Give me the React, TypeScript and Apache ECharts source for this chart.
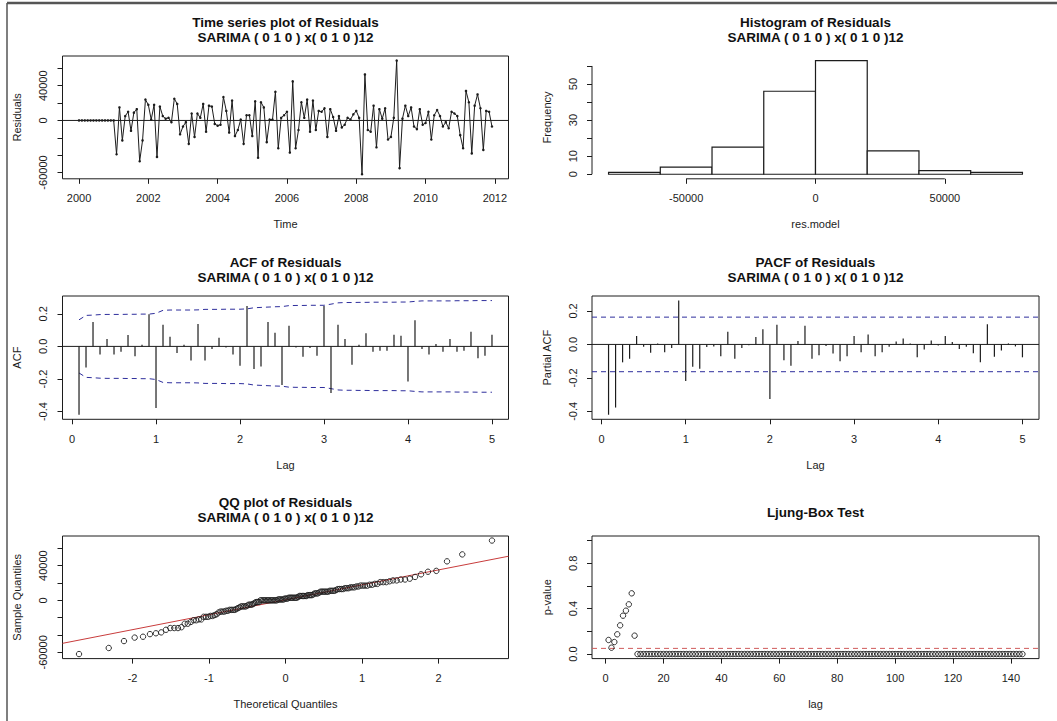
import React, { useEffect, useRef } from "react";
import * as echarts from "echarts";

const FONT = "'Liberation Sans', Arial, sans-serif";
const INK = "#1c1c1c";
const BAND = "#2e2e9c";

// ---------- Time series of residuals (monthly, from 2000) ----------
const tsStart = 2000;
const tsFrequency = 12;
const residuals: number[] = [
  0, 0, 0, 0, 0, 0, 0, 0, 0, 0, 0, 0, 0,
  -39000, 15000, -23000, 5000, 10000, -12000, 9000, 13000, -47000, -23000,
  24000, 18000, 1000, 18000, -42000, 16000, 5000, 2000, 3000, -2000,
  25000, 19000, -16000, -7000, -2000, -27000, 8000, -19000, 8000, 3000,
  19000, -13000, 17000, 16000, -4000, -6000, -5000, 27000, 11000, -14000,
  23000, -18000, -11000, 1000, -27000, 6000, 6000, -18000, 22000, -43000,
  21000, 15000, -25000, 1000, 1000, 33000,
  -32000, 3000, 6000, 10000, -37000, 45000, -32000, -11000, 21000, 3000,
  24000, -13000, 23000, -11000, 11000, 10000, 14000, -19000, 13000, 4000,
  -12000, 5000, -8000, -5000, 3000, 1000, 7000, 11000, 3000, -62000,
  53000, -11000, -13000, 17000, -31000, 13000, 2000, 14000, -22000, -19000,
  3000, 69000, -55000, 2000, 17000, 5000, 15000, -7000, -10000, 13000,
  -5000, -3000, 10000, -22000, 6000, 12000, 5000, -7000, -2000, -9000,
  10000, 8000, 5000, -17000, -32000, 34000, 21000, -38000, 17000, 30000,
  14000, -34000, 11000, 10000, -7000,
];
const yearTicks = [2000, 2002, 2004, 2006, 2008, 2010, 2012];
const residualTicks = [-60000, -40000, -20000, 0, 20000, 40000, 60000];
const residualTickLabels = [-60000, 0, 40000];

// ---------- Histogram ----------
const histBreaks = [-80000, -60000, -40000, -20000, 0, 20000, 40000, 60000, 80000];
const histCounts = [1, 4, 15, 46, 63, 13, 2, 1];
const histXTicks = [-50000, 0, 50000];
const histYTicks = [0, 10, 20, 30, 40, 50, 60];
const histYTickLabels = [0, 10, 30, 50];

// ---------- ACF / PACF (lags 1..60, in years) ----------
const lagsPerYear = 12;
const acfValues = [
  -0.419, -0.13, 0.15, -0.05, 0.045, -0.05, -0.033, 0.07, -0.06, 0.01,
  0.197, -0.378, 0.132, 0.059, -0.04, 0.01, -0.087, 0.138, -0.087, -0.016,
  0.053, -0.006, -0.05, -0.118, 0.248, -0.138, -0.124, 0.15, 0.083, -0.236,
  0.126, -0.006, -0.063, -0.01, -0.057, 0.248, -0.285, 0.132, 0.045, -0.112,
  0.01, 0.081, -0.033, -0.026, -0.026, 0.071, 0.065, -0.215, 0.16, -0.016,
  -0.05, 0.014, -0.033, 0.045, -0.033, -0.026, 0.09, -0.073, -0.057, 0.071,
];
const acfBand = [
  0.163, 0.19, 0.192, 0.195, 0.196, 0.196, 0.196, 0.197, 0.197, 0.198,
  0.198, 0.203, 0.221, 0.223, 0.223, 0.223, 0.223, 0.224, 0.227, 0.227,
  0.227, 0.228, 0.228, 0.228, 0.23, 0.237, 0.239, 0.241, 0.243, 0.244,
  0.25, 0.251, 0.251, 0.252, 0.252, 0.252, 0.259, 0.267, 0.269, 0.269,
  0.27, 0.27, 0.271, 0.271, 0.271, 0.271, 0.272, 0.272, 0.276, 0.279,
  0.279, 0.279, 0.279, 0.279, 0.28, 0.28, 0.28, 0.281, 0.281, 0.281,
];
const pacfValues = [
  -0.42, -0.377, -0.107, -0.085, 0.05, -0.014, -0.05, 0.006, -0.046, -0.022,
  0.262, -0.218, -0.133, -0.145, -0.016, -0.012, -0.07, 0.075, -0.085, -0.022,
  -0.005, 0.044, 0.09, -0.326, 0.117, -0.095, -0.127, 0.02, 0.111, -0.085,
  -0.064, -0.01, -0.054, -0.1, -0.07, 0.05, -0.046, 0.06, -0.07, -0.046,
  -0.014, 0.018, 0.036, 0.005, -0.077, -0.03, 0.024, -0.006, 0.05, 0.014,
  -0.028, -0.014, -0.052, -0.107, 0.121, -0.073, -0.036, 0.006, -0.012, -0.077,
];
const pacfBand = 0.163;
const lagTicks = [0, 1, 2, 3, 4, 5];
const corrTicks = [-0.4, -0.2, 0, 0.2];

// ---------- QQ ----------
const qqXTicks = [-2, -1, 0, 1, 2];

// ---------- Ljung-Box ----------
const lbPValues = [
  0.124, 0.056, 0.106, 0.174, 0.253, 0.338, 0.382, 0.438, 0.535, 0.162,
  0, 0, 0, 0, 0, 0, 0, 0, 0, 0, 0, 0, 0, 0, 0, 0, 0, 0, 0, 0,
  0, 0, 0, 0, 0, 0, 0, 0, 0, 0, 0, 0, 0, 0, 0, 0, 0, 0, 0, 0,
  0, 0, 0, 0, 0, 0, 0, 0, 0, 0, 0, 0, 0, 0, 0, 0, 0, 0, 0, 0,
  0, 0, 0, 0, 0, 0, 0, 0, 0, 0, 0, 0, 0, 0, 0, 0, 0, 0, 0, 0,
  0, 0, 0, 0, 0, 0, 0, 0, 0, 0, 0, 0, 0, 0, 0, 0, 0, 0, 0, 0,
  0, 0, 0, 0, 0, 0, 0, 0, 0, 0, 0, 0, 0, 0, 0, 0, 0, 0, 0, 0,
  0, 0, 0, 0, 0, 0, 0, 0, 0, 0, 0, 0, 0, 0,
];
const lbThreshold = 0.05;
const lbXTicks = [0, 20, 40, 60, 80, 100, 120, 140];
const lbYTicks = [0, 0.2, 0.4, 0.6, 0.8, 1];
const lbYTickLabels = [0, 0.4, 0.8];

const subtitle = "SARIMA ( 0 1 0 ) x( 0 1 0 )12";

// ---------- helpers ----------
function rRange(lo: number, hi: number): [number, number] {
  const d = (hi - lo) * 0.04;
  return [lo - d, hi + d];
}

function qnorm(p: number): number {
  const a = [-39.6968302866538, 220.946098424521, -275.928510446969, 138.357751867269, -30.6647980661472, 2.50662827745924];
  const b = [-54.4760987982241, 161.585836858041, -155.698979859887, 66.8013118877197, -13.2806815528857];
  const c = [-0.00778489400243029, -0.322396458041136, -2.40075827716184, -2.54973253934373, 4.37466414146497, 2.93816398269878];
  const d = [0.00778469570904146, 0.32246712907004, 2.445134137143, 3.75440866190742];
  const pl = 0.02425;
  if (p < pl) {
    const q = Math.sqrt(-2 * Math.log(p));
    return (((((c[0] * q + c[1]) * q + c[2]) * q + c[3]) * q + c[4]) * q + c[5]) / ((((d[0] * q + d[1]) * q + d[2]) * q + d[3]) * q + 1);
  }
  if (p > 1 - pl) {
    const q = Math.sqrt(-2 * Math.log(1 - p));
    return -(((((c[0] * q + c[1]) * q + c[2]) * q + c[3]) * q + c[4]) * q + c[5]) / ((((d[0] * q + d[1]) * q + d[2]) * q + d[3]) * q + 1);
  }
  const q = p - 0.5;
  const r = q * q;
  return ((((((a[0] * r + a[1]) * r + a[2]) * r + a[3]) * r + a[4]) * r + a[5]) * q) / (((((b[0] * r + b[1]) * r + b[2]) * r + b[3]) * r + b[4]) * r + 1);
}

function quantile7(sorted: number[], p: number): number {
  const h = (sorted.length - 1) * p;
  const lo = Math.floor(h);
  const hi = Math.ceil(h);
  return sorted[lo] + (h - lo) * (sorted[hi] - sorted[lo]);
}

const GRIDS = [
  { left: 62.5, top: 56, width: 446, height: 122.8 },
  { left: 592, top: 56, width: 447, height: 122.8 },
  { left: 62.5, top: 296, width: 446, height: 123.3 },
  { left: 592, top: 296, width: 447, height: 123.3 },
  { left: 62.5, top: 536, width: 446, height: 122.6 },
  { left: 592, top: 536, width: 447, height: 122.6 },
];

function axis(
  gridIndex: number,
  range: [number, number],
  ticks: number[],
  labels: number[],
  name: string,
  isY: boolean,
  fmt: (v: number) => string
) {
  return {
    type: "value",
    gridIndex,
    min: range[0],
    max: range[1],
    splitLine: { show: false },
    axisLine: { show: false, onZero: false },
    axisTick: {
      show: true,
      inside: false,
      length: 5,
      customValues: ticks,
      lineStyle: { color: INK, width: 1 },
    },
    axisLabel: {
      show: true,
      customValues: labels,
      rotate: isY ? 90 : 0,
      margin: 14,
      fontSize: 11,
      fontFamily: FONT,
      color: INK,
      formatter: (v: number) => fmt(v),
    },
    name,
    nameLocation: "middle",
    nameGap: 40,
    nameRotate: isY ? 90 : 0,
    nameTextStyle: { fontSize: 11, fontFamily: FONT, color: INK },
  };
}

function buildOption() {
  const n = residuals.length;
  const tsX = residuals.map((_, i) => tsStart + i / tsFrequency);
  const tsXRange = rRange(tsX[0], tsX[n - 1]);
  const resRange = rRange(Math.min(...residuals), Math.max(...residuals));

  const histXRange = rRange(histBreaks[0], histBreaks[histBreaks.length - 1]);
  const histYRange = rRange(0, Math.max(...histCounts));

  const lags = acfValues.map((_, i) => (i + 1) / lagsPerYear);
  const lagRange = rRange(lags[0], lags[lags.length - 1]);
  const acfRange = rRange(
    Math.min(...acfValues, ...acfBand.map((b) => -b)),
    Math.max(...acfValues, ...acfBand)
  );
  const pacfRange = rRange(Math.min(...pacfValues, -pacfBand), Math.max(...pacfValues, pacfBand));

  const sorted = [...residuals].sort((a, b) => a - b);
  const theo = sorted.map((_, i) => qnorm((i + 1 - 0.5) / n));
  const qqXRange = rRange(theo[0], theo[n - 1]);
  const q1 = quantile7(sorted, 0.25);
  const q3 = quantile7(sorted, 0.75);
  const z1 = qnorm(0.25);
  const z3 = qnorm(0.75);
  const slope = (q3 - q1) / (z3 - z1);
  const intercept = q1 - slope * z1;

  const lbLags = lbPValues.map((_, i) => i + 1);
  const lbXRange = rRange(lbLags[0], lbLags[lbLags.length - 1]);
  const lbYRange = rRange(0, 1);

  const intFmt = (v: number) => String(Math.round(v));
  const oneDec = (v: number) => (Math.abs(v) < 1e-9 ? "0.0" : v.toFixed(1));

  const spike = (color: string) => (params: any, api: any) => {
    const x = api.value(0);
    const y = api.value(1);
    const p0 = api.coord([x, 0]);
    const p1 = api.coord([x, y]);
    return {
      type: "line",
      shape: { x1: p0[0], y1: p0[1], x2: p1[0], y2: p1[1] },
      style: { stroke: color, lineWidth: 1.2 },
    };
  };

  const ring = (params: any, api: any) => {
    const p = api.coord([api.value(0), api.value(1)]);
    return {
      type: "circle",
      shape: { cx: p[0], cy: p[1], r: 2.7 },
      style: { fill: "none", stroke: INK, lineWidth: 0.9 },
    };
  };

  const flat = (
    xi: number,
    xr: [number, number],
    yv: number,
    color: string,
    dashed: boolean,
    width = 1
  ) => ({
    type: "line",
    xAxisIndex: xi,
    yAxisIndex: xi,
    data: [
      [xr[0], yv],
      [xr[1], yv],
    ],
    symbol: "none",
    silent: true,
    lineStyle: { color, width, type: dashed ? [5, 4] : "solid" },
    z: 3,
  });

  const titles: any[] = [];
  const titleText = [
    "Time series plot of Residuals",
    "Histogram of Residuals",
    "ACF of Residuals",
    "PACF of Residuals",
    "QQ plot of Residuals",
  ];
  GRIDS.forEach((g, i) => {
    const cx = g.left + g.width / 2;
    if (i < 5) {
      titles.push({
        type: "text",
        x: cx,
        y: g.top - 34,
        style: { text: titleText[i], textAlign: "center", textVerticalAlign: "middle", font: `bold 13.5px ${FONT}`, fill: "#111" },
      });
      titles.push({
        type: "text",
        x: cx,
        y: g.top - 19,
        style: { text: subtitle, textAlign: "center", textVerticalAlign: "middle", font: `bold 13.5px ${FONT}`, fill: "#111" },
      });
    } else {
      titles.push({
        type: "text",
        x: cx,
        y: g.top - 24,
        style: { text: "Ljung-Box Test", textAlign: "center", textVerticalAlign: "middle", font: `bold 13.5px ${FONT}`, fill: "#111" },
      });
    }
  });

  return {
    animation: false,
    backgroundColor: "#ffffff",
    grid: GRIDS.map((g, i) => ({
      ...g,
      containLabel: false,
      show: i !== 1,
      borderColor: INK,
      borderWidth: 1,
      backgroundColor: "transparent",
    })),
    xAxis: [
      axis(0, tsXRange, yearTicks, yearTicks, "Time", false, intFmt),
      axis(1, histXRange, histXTicks, histXTicks, "res.model", false, intFmt),
      axis(2, lagRange, lagTicks, lagTicks, "Lag", false, intFmt),
      axis(3, lagRange, lagTicks, lagTicks, "Lag", false, intFmt),
      axis(4, qqXRange, qqXTicks, qqXTicks, "Theoretical Quantiles", false, intFmt),
      axis(5, lbXRange, lbXTicks, lbXTicks, "lag", false, intFmt),
    ],
    yAxis: [
      axis(0, resRange, residualTicks, residualTickLabels, "Residuals", true, intFmt),
      axis(1, histYRange, histYTicks, histYTickLabels, "Frequency", true, intFmt),
      axis(2, acfRange, corrTicks, corrTicks, "ACF", true, oneDec),
      axis(3, pacfRange, corrTicks, corrTicks, "Partial ACF", true, oneDec),
      axis(4, resRange, residualTicks, residualTickLabels, "Sample Quantiles", true, intFmt),
      axis(5, lbYRange, lbYTicks, lbYTickLabels, "p-value", true, oneDec),
    ],
    graphic: [
      { type: "line", shape: { x1: 7, y1: 3, x2: 1057, y2: 3 }, style: { stroke: "#555", lineWidth: 2.5 } },
      { type: "line", shape: { x1: 7, y1: 3, x2: 7, y2: 721 }, style: { stroke: "#555", lineWidth: 1.5 } },
      ...titles,
    ],
    series: [
      // time series
      flat(0, tsXRange, 0, INK, false),
      {
        type: "line",
        xAxisIndex: 0,
        yAxisIndex: 0,
        data: residuals.map((v, i) => [tsX[i], v]),
        symbol: "circle",
        symbolSize: 2.5,
        showSymbol: true,
        lineStyle: { color: INK, width: 1 },
        itemStyle: { color: INK },
        z: 4,
      },
      // histogram
      {
        type: "custom",
        xAxisIndex: 1,
        yAxisIndex: 1,
        data: histCounts.map((c, i) => [histBreaks[i], histBreaks[i + 1], c]),
        encode: { x: [0, 1], y: 2 },
        renderItem: (params: any, api: any) => {
          const lo = api.value(0);
          const hi = api.value(1);
          const c = api.value(2);
          const p0 = api.coord([lo, c]);
          const p1 = api.coord([hi, 0]);
          return {
            type: "rect",
            shape: { x: p0[0], y: p0[1], width: p1[0] - p0[0], height: p1[1] - p0[1] },
            style: { fill: "#ffffff", stroke: INK, lineWidth: 1.2 },
          };
        },
      },
      {
        type: "line",
        xAxisIndex: 1,
        yAxisIndex: 1,
        data: [
          [histXTicks[0], histYRange[0]],
          [histXTicks[histXTicks.length - 1], histYRange[0]],
        ],
        symbol: "none",
        clip: false,
        silent: true,
        lineStyle: { color: INK, width: 1 },
      },
      {
        type: "line",
        xAxisIndex: 1,
        yAxisIndex: 1,
        data: [
          [histXRange[0], histYTicks[0]],
          [histXRange[0], histYTicks[histYTicks.length - 1]],
        ],
        symbol: "none",
        clip: false,
        silent: true,
        lineStyle: { color: INK, width: 1 },
      },
      // ACF
      flat(2, lagRange, 0, INK, false),
      {
        type: "custom",
        xAxisIndex: 2,
        yAxisIndex: 2,
        data: acfValues.map((v, i) => [lags[i], v]),
        encode: { x: 0, y: 1 },
        renderItem: spike(INK),
        z: 4,
      },
      {
        type: "line",
        xAxisIndex: 2,
        yAxisIndex: 2,
        data: acfBand.map((b, i) => [lags[i], b]),
        symbol: "none",
        lineStyle: { color: BAND, width: 1, type: [5, 4] },
      },
      {
        type: "line",
        xAxisIndex: 2,
        yAxisIndex: 2,
        data: acfBand.map((b, i) => [lags[i], -b]),
        symbol: "none",
        lineStyle: { color: BAND, width: 1, type: [5, 4] },
      },
      // PACF
      flat(3, lagRange, 0, INK, false),
      flat(3, lagRange, pacfBand, BAND, true),
      flat(3, lagRange, -pacfBand, BAND, true),
      {
        type: "custom",
        xAxisIndex: 3,
        yAxisIndex: 3,
        data: pacfValues.map((v, i) => [lags[i], v]),
        encode: { x: 0, y: 1 },
        renderItem: spike(INK),
        z: 4,
      },
      // QQ
      {
        type: "line",
        xAxisIndex: 4,
        yAxisIndex: 4,
        data: [
          [qqXRange[0], intercept + slope * qqXRange[0]],
          [qqXRange[1], intercept + slope * qqXRange[1]],
        ],
        symbol: "none",
        silent: true,
        lineStyle: { color: "#c83c3c", width: 1 },
        z: 3,
      },
      {
        type: "custom",
        xAxisIndex: 4,
        yAxisIndex: 4,
        data: sorted.map((v, i) => [theo[i], v]),
        encode: { x: 0, y: 1 },
        renderItem: ring,
        z: 4,
      },
      // Ljung-Box
      flat(5, lbXRange, lbThreshold, "#d05a5a", true),
      {
        type: "custom",
        xAxisIndex: 5,
        yAxisIndex: 5,
        data: lbPValues.map((p, i) => [lbLags[i], p]),
        encode: { x: 0, y: 1 },
        renderItem: ring,
        z: 4,
      },
    ],
  };
}

export default function App() {
  const ref = useRef<HTMLDivElement>(null);
  useEffect(() => {
    document.body.style.margin = "0";
    if (!ref.current) return;
    const chart = echarts.init(ref.current, undefined, { renderer: "svg" });
    chart.setOption(buildOption() as any);
    return () => chart.dispose();
  }, []);
  return <div ref={ref} style={{ width: 1057, height: 721, background: "#fff" }} />;
}
